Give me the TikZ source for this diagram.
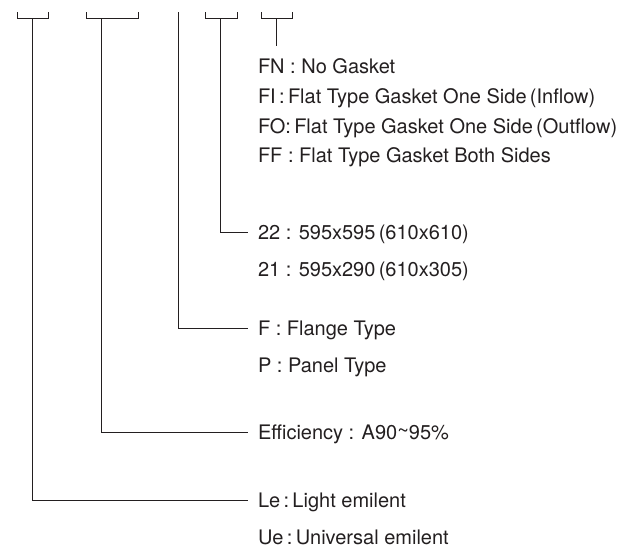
\documentclass[tikz,border=0pt]{standalone}
\usepackage{fontspec}
\setmainfont{TeX Gyre Heros}
\usetikzlibrary{positioning}
\definecolor{ink}{HTML}{231F20}

\begin{document}
\begin{tikzpicture}[
    x=1pt, y=-1pt,
    font=\fontsize{20}{24}\selectfont,
    text=ink,
    lbl/.style={anchor=base west, inner sep=0pt, outer sep=0pt},
    lead/.style={draw=ink, line width=0.9pt, shorten >=10pt},
    brk/.style={draw=ink, line width=0.9pt}
]
    \useasboundingbox (0,0) rectangle (632,549);

    % top brackets
    \draw[brk] (17,12) |- (48,18) -- (48,12);
    \draw[brk] (86,12) |- (138,18) -- (138,12);
    \draw[brk] (205,12) |- (237,18) -- (237,12);
    \draw[brk] (261,12) |- (292,18) -- (292,12);
    \coordinate (le-top) at (32,18);
    \coordinate (eff-top) at (101,18);
    \coordinate (type-top) at (178,12);
    \coordinate (size-top) at (220,18);
    \coordinate (gask-top) at (276,18);
    \coordinate (gask-end) at (276,46);

    % gasket
    \node[lbl] (fn) at (258,73) {FN : No Gasket};
    \node[lbl] (fi) at (258,103) {FI\,:\,Flat Type Gasket One Side\,(Inflow)};
    \node[lbl] (fo) at (258,133) {FO:\,Flat Type Gasket One Side\,(Outflow)};
    \node[lbl] (ff) at (258,162) {FF : Flat Type Gasket Both Sides};

    % size
    \node[lbl] (s22) at (258,239) {22 : 595x595\,(610x610)};
    \node[lbl] (s21) at (258,276) {21 : 595x290\,(610x305)};

    % type
    \node[lbl] (flange) at (258,335) {F : Flange Type};
    \node[lbl] (panel) at (258,372) {P : Panel Type};

    % efficiency
    \node[lbl] (eff) at (258,439) {Efficiency : A90\raisebox{0.15ex}{\textasciitilde}95\%};

    % media
    \node[lbl] (le) at (258,507) {Le\,:\,Light emilent};
    \node[lbl] (ue) at (258,544) {Ue\,:\,Universal emilent};

    \draw[brk] (gask-top) -- (gask-end);
    \draw[lead] (size-top) |- ([yshift=7]s22.base west);
    \draw[lead] (type-top) |- ([yshift=7]flange.base west);
    \draw[lead] (eff-top) |- ([yshift=7]eff.base west);
    \draw[lead] (le-top) |- ([yshift=7]le.base west);
\end{tikzpicture}
\end{document}
